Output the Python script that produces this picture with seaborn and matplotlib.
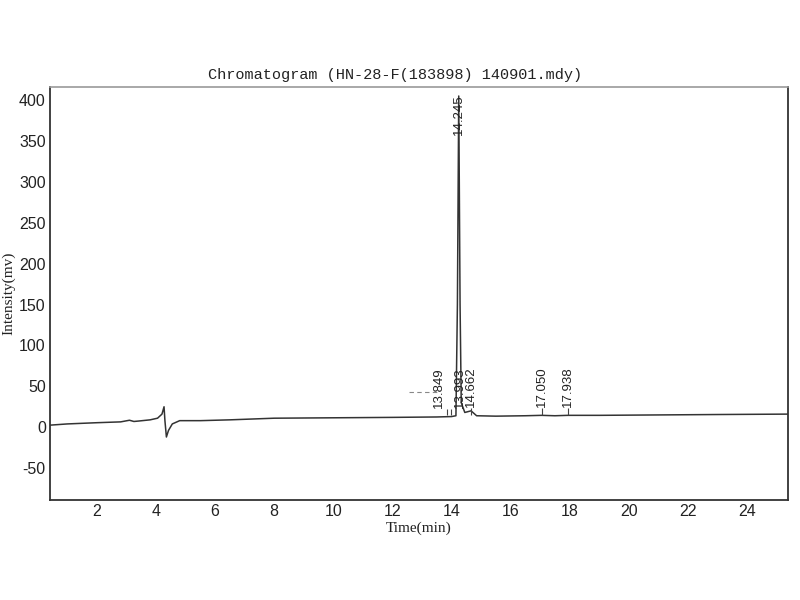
import pandas as pd
import matplotlib
matplotlib.use('Agg')
import matplotlib.pyplot as plt
import seaborn as sns

# Trace points (time in min, intensity in mV)
time_min = [0.41, 1.0, 2.0, 2.8, 3.1, 3.25, 3.4, 3.8, 4.05, 4.2, 4.27, 4.3, 4.35, 4.42,
            4.55, 4.8, 5.5, 6.5, 8.0, 10.0, 12.0, 13.5, 14.0, 14.15, 14.2, 14.245,
            14.29, 14.33, 14.45, 14.662, 14.85, 15.5, 16.5, 17.05, 17.5, 17.938,
            19.0, 21.0, 23.0, 25.39]
intensity_mv = [2.5, 4, 5.5, 6.5, 8.5, 7, 7.5, 9, 11, 16, 25, 8, -12, -4,
                4, 8, 8, 9, 11, 11.5, 12, 12.5, 13, 14, 150, 405,
                150, 30, 18, 20, 14, 13.5, 14, 14.5, 14, 14.5,
                14.5, 15, 15.5, 16]

peak_times = [13.849, 13.993, 14.245, 14.662, 17.050, 17.938]
peak_labels = ['13.849', '13.993', '14.245', '14.662', '17.050', '17.938']
label_base = [23, 23, 357, 25, 25, 25]
label_shift = [-6, 6, 0, 0, 0, 0]  # nudge of the two crowded labels, in points

x_ticks = [2, 4, 6, 8, 10, 12, 14, 16, 18, 20, 22, 24]
y_ticks = [-50, 0, 50, 100, 150, 200, 250, 300, 350, 400]

# reference line left of the main peak
ref_x = [12.55, 13.55]
ref_y = [43, 43]

trace = pd.DataFrame({'Time': time_min, 'Intensity': intensity_mv})

sns.set_style("white")
plt.rcParams['axes.unicode_minus'] = False
fig = plt.figure(figsize=(8, 6), dpi=100)
ax = fig.add_axes([0.0625, 0.1667, 0.9225, 0.6883])

sns.lineplot(data=trace, x='Time', y='Intensity', estimator=None, color='#333333',
             linewidth=1.1, ax=ax)
ax.plot(ref_x, ref_y, linestyle=(0, (4, 3)), color='#888888', linewidth=0.8)

for t, lab, yb, dx in zip(peak_times, peak_labels, label_base, label_shift):
    if yb < 100:
        ax.vlines(t, 15, yb - 1, color='#444444', linewidth=0.8)
    ax.annotate(lab, xy=(t, yb), xytext=(dx, 0), textcoords='offset points',
                rotation=90, ha='center', va='bottom', fontsize=9.5,
                family='Liberation Sans', color='#222222')

ax.set_xlim(0.41, 25.39)
ax.set_ylim(-89, 416)
ax.set_xticks(x_ticks)
ax.set_yticks(y_ticks)
ax.tick_params(length=0, labelsize=11.5, pad=3, colors='#222222')
for lbl in ax.get_xticklabels() + ax.get_yticklabels():
    lbl.set_family('Liberation Sans')

ax.set_xlabel('Time(min)', family='Liberation Serif', fontsize=11, color='#222222', labelpad=2)
ax.set_ylabel('Intensity(mv)', family='Liberation Serif', fontsize=11, color='#222222', labelpad=3)

ax.text(0.467, 1.012, 'Chromatogram (HN-28-F(183898) 140901.mdy)', transform=ax.transAxes,
        ha='center', va='bottom', fontsize=11, family='Liberation Mono', color='#222222')

for side in ['left', 'bottom', 'right']:
    ax.spines[side].set_color('#333333')
    ax.spines[side].set_linewidth(1.3)
ax.spines['top'].set_color('#999999')
ax.spines['top'].set_linewidth(1.2)

fig.savefig('out.png', dpi=100)
